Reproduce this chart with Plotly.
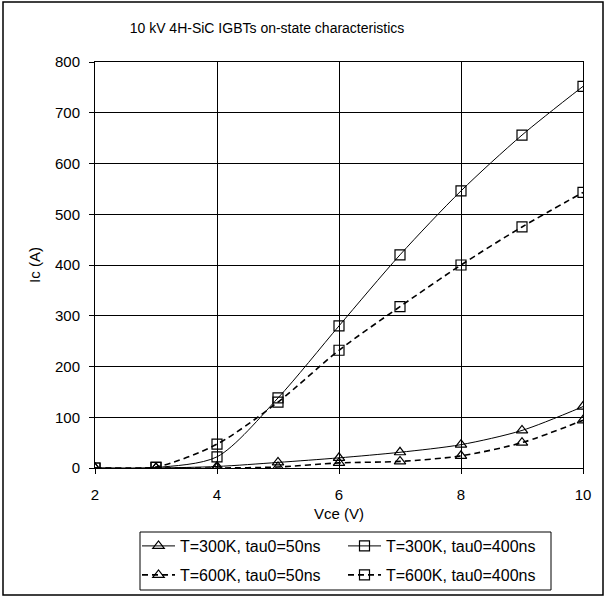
import plotly.graph_objects as go

# Collector-emitter voltage (V)
vce = [2, 3, 4, 5, 6, 7, 8, 9, 10]

# Collector current (A) for each temperature / carrier lifetime case
ic_300k_50ns = [0, 0, 3, 11, 20, 31, 46, 74, 121]
ic_300k_400ns = [0, 1, 22, 138, 280, 420, 546, 656, 752]
ic_600k_50ns = [0, 0, 0, 2, 10, 13, 24, 50, 94]
ic_600k_400ns = [0, 2, 47, 130, 232, 318, 400, 475, 543]

# (label, values, dash, marker, width, legend row)
series = [
    ("T=300K, tau0=50ns", ic_300k_50ns, "solid", "triangle-up-open", 1.0, "legend"),
    ("T=300K, tau0=400ns", ic_300k_400ns, "solid", "square-open", 1.0, "legend"),
    ("T=600K, tau0=50ns", ic_600k_50ns, "6px,4px", "triangle-up-open", 1.6, "legend2"),
    ("T=600K, tau0=400ns", ic_600k_400ns, "6px,4px", "square-open", 1.6, "legend2"),
]

FONT = "Liberation Sans, Arial, sans-serif"
FS = 15

fig = go.Figure()
for name, ys, dash, sym, w, lg in series:
    fig.add_trace(go.Scatter(
        x=vce, y=ys, name=name, mode="lines+markers", legend=lg,
        line=dict(color="black", width=w, dash=dash, shape="spline", smoothing=0.8),
        marker=dict(symbol=sym, size=10, color="black", line=dict(color="black", width=1.2)),
    ))

L, R, T, B = 95, 24, 62, 129
W, H = 607, 597
pw, ph = W - L - R, H - T - B

def px_x(p):
    return (p - L) / pw

def px_y(p):
    return (H - B - p) / ph

legend_common = dict(
    orientation="h", x=px_x(137), xanchor="left", yanchor="middle",
    borderwidth=0, bgcolor="rgba(0,0,0,0)",
    entrywidth=158, entrywidthmode="pixels", itemwidth=33,
    font=dict(size=16, family=FONT, color="black"),
)

fig.update_layout(
    width=W, height=H,
    margin=dict(l=L, r=R, t=T, b=B, autoexpand=False),
    paper_bgcolor="white", plot_bgcolor="white",
    font=dict(family=FONT, size=FS, color="black"),
    title=dict(text="10 kV 4H-SiC IGBTs on-state characteristics",
               x=267 / W, xanchor="center", y=1 - 28 / H, yanchor="middle",
               font=dict(size=14, family=FONT, color="black")),
    showlegend=True,
    legend=dict(legend_common, y=px_y(546)),
    legend2=dict(legend_common, y=px_y(575)),
    xaxis=dict(
        range=[2, 10], tickmode="linear", tick0=2, dtick=2,
        showgrid=True, gridcolor="black", gridwidth=1,
        showline=True, linecolor="black", linewidth=1, mirror=True,
        ticks="outside", ticklen=5, tickcolor="black", ticklabelstandoff=8,
        zeroline=False,
        title=dict(text="Vce (V)", font=dict(size=FS, family=FONT), standoff=6),
    ),
    yaxis=dict(
        range=[0, 800], tickmode="linear", tick0=0, dtick=100,
        showgrid=True, gridcolor="black", gridwidth=1,
        showline=True, linecolor="black", linewidth=1, mirror=True,
        ticks="outside", ticklen=5, tickcolor="black", ticklabelstandoff=6,
        zeroline=False,
        title=dict(text="Ic (A)", font=dict(size=FS, family=FONT), standoff=10),
    ),
)

# Chart-area frame around the whole figure
fig.add_shape(type="rect", xref="paper", yref="paper",
              x0=px_x(3), x1=px_x(603), y0=px_y(595), y1=px_y(2),
              line=dict(color="black", width=1.5), layer="below")
# Legend frame
fig.add_shape(type="rect", xref="paper", yref="paper",
              x0=px_x(140), x1=px_x(551), y0=px_y(590), y1=px_y(532),
              line=dict(color="black", width=1), layer="below")

fig.write_html("out.html")
